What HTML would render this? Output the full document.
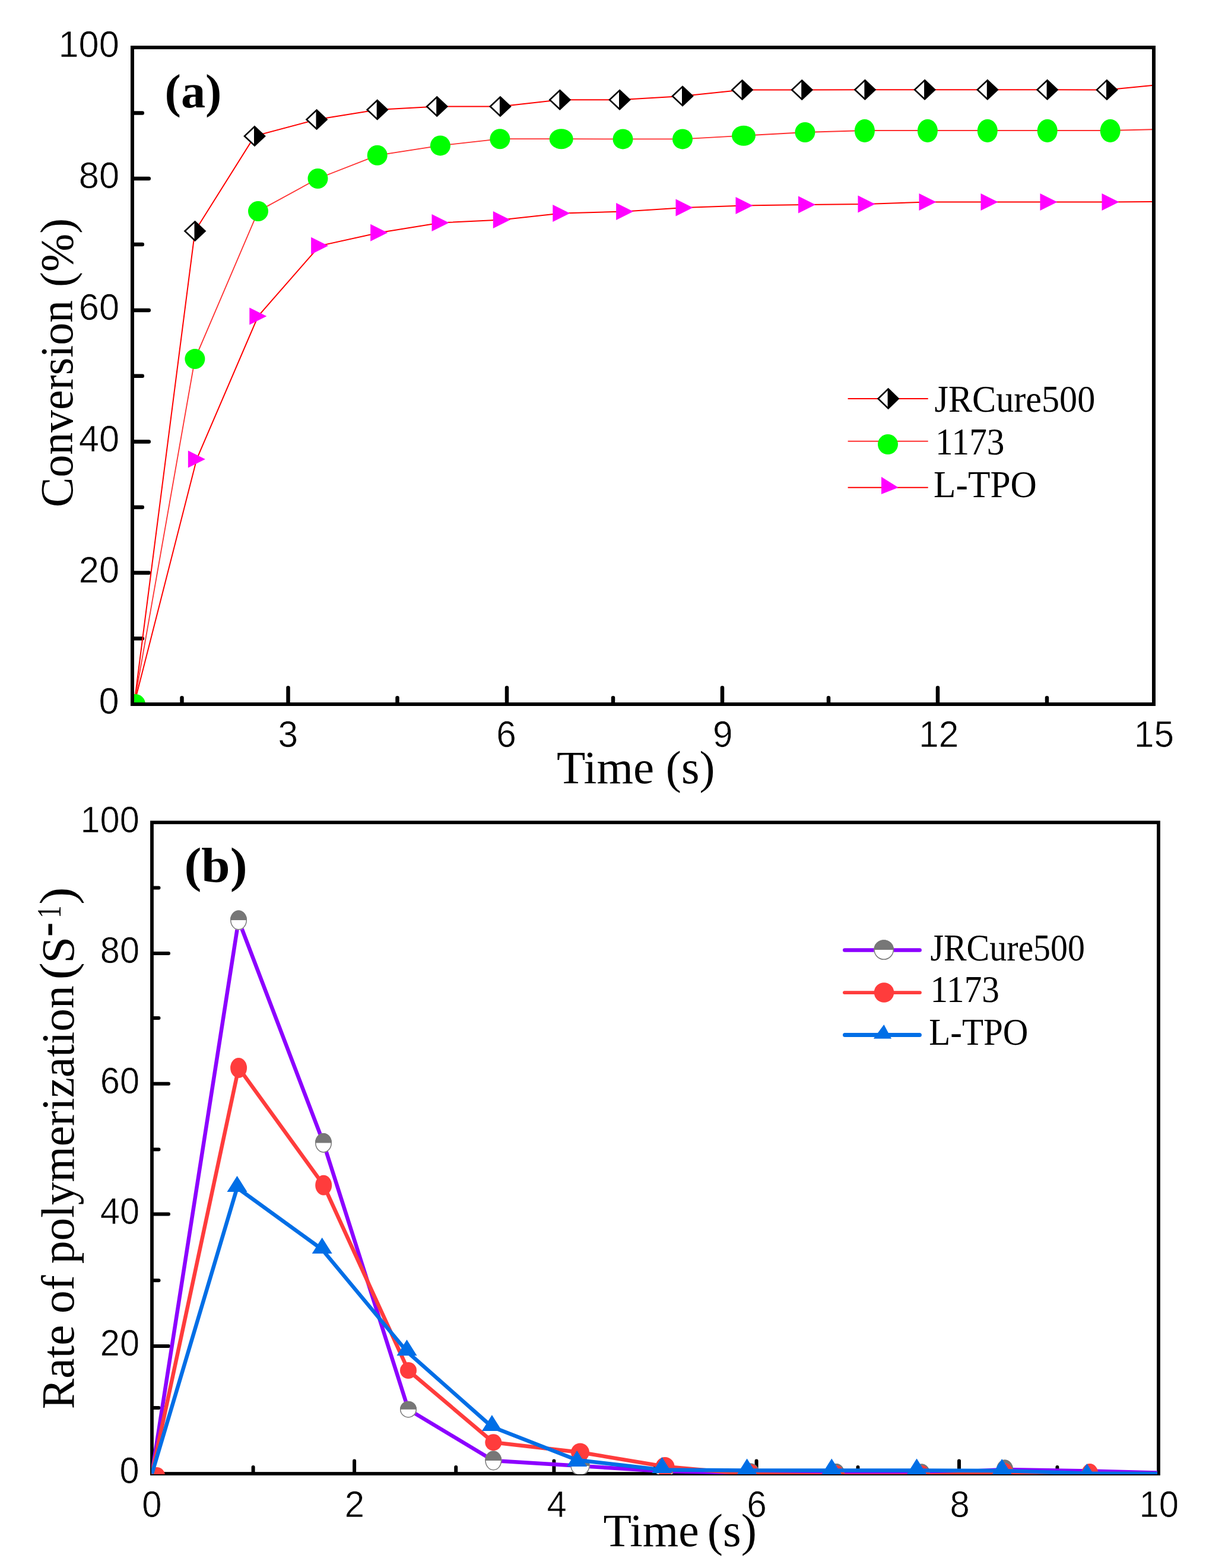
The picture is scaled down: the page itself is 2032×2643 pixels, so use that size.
<!DOCTYPE html>
<html><head><meta charset="utf-8"><title>Conversion and rate of polymerization</title><style>html,body{margin:0;padding:0;background:#fff;overflow:hidden;}svg{display:block;}</style></head>
<body>
<svg width="2032" height="2643" viewBox="0 0 2032 2643">
<rect width="100%" height="100%" fill="#fff"/>
<defs><clipPath id="ca"><rect x="226" y="83" width="1715" height="1101"/></clipPath><clipPath id="cb"><rect x="255" y="1389" width="1695" height="1096"/></clipPath></defs>
<path d="M226,965.6H250.8M226,744.5H250.8M226,522.9H250.8M226,301H250.8M226,1076.3H239.8M226,854.9H239.8M226,633.7H239.8M226,412H239.8M226,190.5H239.8M485.5,1184V1159.2M854,1184V1159.2M1217,1184V1159.2M1580,1184V1159.2M306.5,1184V1176.2M669.5,1184V1176.2M1033,1184V1176.2M1396,1184V1176.2M1764,1184V1176.2" stroke="#000" stroke-width="6.5" fill="none" stroke-linecap="round"/>
<rect x="223" y="80" width="1721" height="1107" fill="none" stroke="#000" stroke-width="6"/>
<text transform="translate(166.56,1203.37) scale(0.9750,1)" font-family="'Liberation Sans', sans-serif" font-size="63.0" font-weight="normal" fill="#000" stroke="#fff" stroke-width="0.7">0</text>
<text transform="translate(132.78,981.97) scale(0.9750,1)" font-family="'Liberation Sans', sans-serif" font-size="63.0" font-weight="normal" fill="#000" stroke="#fff" stroke-width="0.7">20</text>
<text transform="translate(132.78,760.87) scale(0.9750,1)" font-family="'Liberation Sans', sans-serif" font-size="63.0" font-weight="normal" fill="#000" stroke="#fff" stroke-width="0.7">40</text>
<text transform="translate(132.78,539.26) scale(0.9750,1)" font-family="'Liberation Sans', sans-serif" font-size="63.0" font-weight="normal" fill="#000" stroke="#fff" stroke-width="0.7">60</text>
<text transform="translate(132.78,317.37) scale(0.9750,1)" font-family="'Liberation Sans', sans-serif" font-size="63.0" font-weight="normal" fill="#000" stroke="#fff" stroke-width="0.7">80</text>
<text transform="translate(98.38,96.36) scale(0.9750,1)" font-family="'Liberation Sans', sans-serif" font-size="63.0" font-weight="normal" fill="#000" stroke="#fff" stroke-width="0.7">100</text>
<text transform="translate(468.41,1259.20) scale(0.9500,1)" font-family="'Liberation Sans', sans-serif" font-size="63.5" font-weight="normal" fill="#000" stroke="#fff" stroke-width="0.7">3</text>
<text transform="translate(836.31,1259.20) scale(0.9500,1)" font-family="'Liberation Sans', sans-serif" font-size="63.5" font-weight="normal" fill="#000" stroke="#fff" stroke-width="0.7">6</text>
<text transform="translate(1201.11,1259.20) scale(0.9500,1)" font-family="'Liberation Sans', sans-serif" font-size="63.5" font-weight="normal" fill="#000" stroke="#fff" stroke-width="0.7">9</text>
<text transform="translate(1548.21,1259.20) scale(0.9500,1)" font-family="'Liberation Sans', sans-serif" font-size="63.5" font-weight="normal" fill="#000" stroke="#fff" stroke-width="0.7">12</text>
<text transform="translate(1911.01,1259.20) scale(0.9500,1)" font-family="'Liberation Sans', sans-serif" font-size="63.5" font-weight="normal" fill="#000" stroke="#fff" stroke-width="0.7">15</text>
<text transform="translate(938.02,1320.00) scale(1.0071,1)" font-family="'Liberation Serif', serif" font-size="78.5" font-weight="normal" fill="#000">Time</text>
<text transform="translate(1121.87,1320.00) scale(0.9981,1)" font-family="'Liberation Serif', serif" font-size="78.5" font-weight="normal" fill="#000">(s)</text>
<text transform="translate(122.00,855.03) rotate(-90) scale(0.9641,1)" font-family="'Liberation Serif', serif" font-size="78.5" font-weight="normal">Conversion</text>
<text transform="translate(122.00,484.00) rotate(-90) scale(0.9857,1)" font-family="'Liberation Serif', serif" font-size="78.5" font-weight="normal">(%)</text>
<text transform="translate(277.51,180.80) scale(1.0151,1)" font-family="'Liberation Serif', serif" font-size="81" font-weight="bold" fill="#000">(a)</text>
<g clip-path="url(#ca)">
<polyline points="226,1187 328.5,389.5 429,229.4 533.5,201.5 635.7,185 736.2,179.5 842.9,179.5 943.3,168.3 1044,168.2 1150,162 1250.5,151.5 1351.2,151.5 1457.4,151.2 1558.1,151.2 1663.8,151.2 1764.6,151.3 1865,151.4 1950,143.2" fill="none" stroke="#ff0000" stroke-width="2"/>
<polyline points="226,1187 328.4,605.1 435,356 535.5,301 635.7,261.8 741.9,245.4 842.4,234.2 945.7,234.2 1049.5,234.4 1150,234.4 1253,228.7 1356.4,223 1456.9,220 1562.9,220 1663.8,220 1764.7,220 1870.7,220 1950,218" fill="none" stroke="#ff3030" stroke-width="1.8"/>
<polyline points="226,1187 331.4,774 434.8,533 538.6,414.3 638.7,392.3 742,375.5 845.3,370.5 945.8,359.4 1052.6,356.5 1153,350 1254,346.5 1359.5,345 1460,344 1563,340.5 1667,340.5 1767,340.5 1871,340.5 1950,340" fill="none" stroke="#ff0000" stroke-width="2"/>
<circle cx="228" cy="1187" r="17" fill="#00ff00"/>
<ellipse cx="328.4" cy="605.1" rx="17" ry="17" fill="#00ff00"/>
<ellipse cx="435" cy="356" rx="17" ry="17" fill="#00ff00"/>
<ellipse cx="535.5" cy="301" rx="17" ry="17" fill="#00ff00"/>
<ellipse cx="635.7" cy="261.8" rx="17" ry="17" fill="#00ff00"/>
<ellipse cx="741.9" cy="245.4" rx="17" ry="17" fill="#00ff00"/>
<ellipse cx="842.4" cy="234.2" rx="17" ry="17" fill="#00ff00"/>
<ellipse cx="945.7" cy="234.2" rx="20" ry="17" fill="#00ff00"/>
<ellipse cx="1049.5" cy="234.4" rx="17" ry="17" fill="#00ff00"/>
<ellipse cx="1150" cy="234.4" rx="17" ry="17" fill="#00ff00"/>
<ellipse cx="1253" cy="228.7" rx="20" ry="17" fill="#00ff00"/>
<ellipse cx="1356.4" cy="223" rx="17" ry="17" fill="#00ff00"/>
<ellipse cx="1456.9" cy="220.5" rx="17" ry="19.5" fill="#00ff00"/>
<ellipse cx="1562.9" cy="220.5" rx="17" ry="19.5" fill="#00ff00"/>
<ellipse cx="1663.8" cy="220.5" rx="17" ry="19.5" fill="#00ff00"/>
<ellipse cx="1764.7" cy="220.5" rx="17" ry="19.5" fill="#00ff00"/>
<ellipse cx="1870.7" cy="220.5" rx="17" ry="19.5" fill="#00ff00"/>
<path d="M328.5,373.5L345.5,389.5L328.5,405.5Z" fill="#000"/><path d="M328.5,373.5L311.5,389.5L328.5,405.5Z" fill="#fff"/><path d="M328.5,373.5L345.5,389.5L328.5,405.5L311.5,389.5Z" fill="none" stroke="#000" stroke-width="2.6" stroke-linejoin="miter"/><path d="M328.5,373.5V405.5" stroke="#000" stroke-width="2"/>
<path d="M429,213.4L446,229.4L429,245.4Z" fill="#000"/><path d="M429,213.4L412,229.4L429,245.4Z" fill="#fff"/><path d="M429,213.4L446,229.4L429,245.4L412,229.4Z" fill="none" stroke="#000" stroke-width="2.6" stroke-linejoin="miter"/><path d="M429,213.4V245.4" stroke="#000" stroke-width="2"/>
<path d="M533.5,185.5L550.5,201.5L533.5,217.5Z" fill="#000"/><path d="M533.5,185.5L516.5,201.5L533.5,217.5Z" fill="#fff"/><path d="M533.5,185.5L550.5,201.5L533.5,217.5L516.5,201.5Z" fill="none" stroke="#000" stroke-width="2.6" stroke-linejoin="miter"/><path d="M533.5,185.5V217.5" stroke="#000" stroke-width="2"/>
<path d="M635.7,169L652.7,185L635.7,201Z" fill="#000"/><path d="M635.7,169L618.7,185L635.7,201Z" fill="#fff"/><path d="M635.7,169L652.7,185L635.7,201L618.7,185Z" fill="none" stroke="#000" stroke-width="2.6" stroke-linejoin="miter"/><path d="M635.7,169V201" stroke="#000" stroke-width="2"/>
<path d="M736.2,163.5L753.2,179.5L736.2,195.5Z" fill="#000"/><path d="M736.2,163.5L719.2,179.5L736.2,195.5Z" fill="#fff"/><path d="M736.2,163.5L753.2,179.5L736.2,195.5L719.2,179.5Z" fill="none" stroke="#000" stroke-width="2.6" stroke-linejoin="miter"/><path d="M736.2,163.5V195.5" stroke="#000" stroke-width="2"/>
<path d="M842.9,163.5L859.9,179.5L842.9,195.5Z" fill="#000"/><path d="M842.9,163.5L825.9,179.5L842.9,195.5Z" fill="#fff"/><path d="M842.9,163.5L859.9,179.5L842.9,195.5L825.9,179.5Z" fill="none" stroke="#000" stroke-width="2.6" stroke-linejoin="miter"/><path d="M842.9,163.5V195.5" stroke="#000" stroke-width="2"/>
<path d="M943.3,152.3L960.3,168.3L943.3,184.3Z" fill="#000"/><path d="M943.3,152.3L926.3,168.3L943.3,184.3Z" fill="#fff"/><path d="M943.3,152.3L960.3,168.3L943.3,184.3L926.3,168.3Z" fill="none" stroke="#000" stroke-width="2.6" stroke-linejoin="miter"/><path d="M943.3,152.3V184.3" stroke="#000" stroke-width="2"/>
<path d="M1044,152.2L1061,168.2L1044,184.2Z" fill="#000"/><path d="M1044,152.2L1027,168.2L1044,184.2Z" fill="#fff"/><path d="M1044,152.2L1061,168.2L1044,184.2L1027,168.2Z" fill="none" stroke="#000" stroke-width="2.6" stroke-linejoin="miter"/><path d="M1044,152.2V184.2" stroke="#000" stroke-width="2"/>
<path d="M1150,146L1167,162L1150,178Z" fill="#000"/><path d="M1150,146L1133,162L1150,178Z" fill="#fff"/><path d="M1150,146L1167,162L1150,178L1133,162Z" fill="none" stroke="#000" stroke-width="2.6" stroke-linejoin="miter"/><path d="M1150,146V178" stroke="#000" stroke-width="2"/>
<path d="M1250.5,135.5L1267.5,151.5L1250.5,167.5Z" fill="#000"/><path d="M1250.5,135.5L1233.5,151.5L1250.5,167.5Z" fill="#fff"/><path d="M1250.5,135.5L1267.5,151.5L1250.5,167.5L1233.5,151.5Z" fill="none" stroke="#000" stroke-width="2.6" stroke-linejoin="miter"/><path d="M1250.5,135.5V167.5" stroke="#000" stroke-width="2"/>
<path d="M1351.2,135.5L1368.2,151.5L1351.2,167.5Z" fill="#000"/><path d="M1351.2,135.5L1334.2,151.5L1351.2,167.5Z" fill="#fff"/><path d="M1351.2,135.5L1368.2,151.5L1351.2,167.5L1334.2,151.5Z" fill="none" stroke="#000" stroke-width="2.6" stroke-linejoin="miter"/><path d="M1351.2,135.5V167.5" stroke="#000" stroke-width="2"/>
<path d="M1457.4,135.2L1474.4,151.2L1457.4,167.2Z" fill="#000"/><path d="M1457.4,135.2L1440.4,151.2L1457.4,167.2Z" fill="#fff"/><path d="M1457.4,135.2L1474.4,151.2L1457.4,167.2L1440.4,151.2Z" fill="none" stroke="#000" stroke-width="2.6" stroke-linejoin="miter"/><path d="M1457.4,135.2V167.2" stroke="#000" stroke-width="2"/>
<path d="M1558.1,135.2L1575.1,151.2L1558.1,167.2Z" fill="#000"/><path d="M1558.1,135.2L1541.1,151.2L1558.1,167.2Z" fill="#fff"/><path d="M1558.1,135.2L1575.1,151.2L1558.1,167.2L1541.1,151.2Z" fill="none" stroke="#000" stroke-width="2.6" stroke-linejoin="miter"/><path d="M1558.1,135.2V167.2" stroke="#000" stroke-width="2"/>
<path d="M1663.8,135.2L1680.8,151.2L1663.8,167.2Z" fill="#000"/><path d="M1663.8,135.2L1646.8,151.2L1663.8,167.2Z" fill="#fff"/><path d="M1663.8,135.2L1680.8,151.2L1663.8,167.2L1646.8,151.2Z" fill="none" stroke="#000" stroke-width="2.6" stroke-linejoin="miter"/><path d="M1663.8,135.2V167.2" stroke="#000" stroke-width="2"/>
<path d="M1764.6,135.3L1781.6,151.3L1764.6,167.3Z" fill="#000"/><path d="M1764.6,135.3L1747.6,151.3L1764.6,167.3Z" fill="#fff"/><path d="M1764.6,135.3L1781.6,151.3L1764.6,167.3L1747.6,151.3Z" fill="none" stroke="#000" stroke-width="2.6" stroke-linejoin="miter"/><path d="M1764.6,135.3V167.3" stroke="#000" stroke-width="2"/>
<path d="M1865,135.4L1882,151.4L1865,167.4Z" fill="#000"/><path d="M1865,135.4L1848,151.4L1865,167.4Z" fill="#fff"/><path d="M1865,135.4L1882,151.4L1865,167.4L1848,151.4Z" fill="none" stroke="#000" stroke-width="2.6" stroke-linejoin="miter"/><path d="M1865,135.4V167.4" stroke="#000" stroke-width="2"/>
<path d="M316.9,759.5L345.9,774L316.9,788.5Z" fill="#ff00ff"/>
<path d="M420.3,518.5L449.3,533L420.3,547.5Z" fill="#ff00ff"/>
<path d="M524.1,399.8L553.1,414.3L524.1,428.8Z" fill="#ff00ff"/>
<path d="M624.2,377.8L653.2,392.3L624.2,406.8Z" fill="#ff00ff"/>
<path d="M727.5,361.0L756.5,375.5L727.5,390.0Z" fill="#ff00ff"/>
<path d="M830.8,356.0L859.8,370.5L830.8,385.0Z" fill="#ff00ff"/>
<path d="M931.3,344.9L960.3,359.4L931.3,373.9Z" fill="#ff00ff"/>
<path d="M1038.1,342.0L1067.1,356.5L1038.1,371.0Z" fill="#ff00ff"/>
<path d="M1138.5,335.5L1167.5,350L1138.5,364.5Z" fill="#ff00ff"/>
<path d="M1239.5,332.0L1268.5,346.5L1239.5,361.0Z" fill="#ff00ff"/>
<path d="M1345.0,330.5L1374.0,345L1345.0,359.5Z" fill="#ff00ff"/>
<path d="M1445.5,329.5L1474.5,344L1445.5,358.5Z" fill="#ff00ff"/>
<path d="M1548.5,326.0L1577.5,340.5L1548.5,355.0Z" fill="#ff00ff"/>
<path d="M1652.5,326.0L1681.5,340.5L1652.5,355.0Z" fill="#ff00ff"/>
<path d="M1752.5,326.0L1781.5,340.5L1752.5,355.0Z" fill="#ff00ff"/>
<path d="M1856.5,326.0L1885.5,340.5L1856.5,355.0Z" fill="#ff00ff"/>
</g>
<path d="M1428.6,672H1563.7M1428.6,821.7H1563.7" stroke="#ff0000" stroke-width="2"/><path d="M1428.6,743.7H1563.7" stroke="#ff3030" stroke-width="2"/>
<path d="M1496.6,655.5L1513.6,672L1496.6,688.5Z" fill="#000"/><path d="M1496.6,655.5L1479.6,672L1496.6,688.5Z" fill="#fff"/><path d="M1496.6,655.5L1513.6,672L1496.6,688.5L1479.6,672Z" fill="none" stroke="#000" stroke-width="2.6" stroke-linejoin="miter"/><path d="M1496.6,655.5V688.5" stroke="#000" stroke-width="2"/>
<circle cx="1496" cy="749" r="17" fill="#00ff00"/>
<path d="M1485,803.7L1513.7,821.7L1485,832.9Z" fill="#ff00ff"/>
<text transform="translate(1574.50,694.30) scale(0.9477,1)" font-family="'Liberation Serif', serif" font-size="63.5" font-weight="normal" fill="#000">JRCure500</text>
<text transform="translate(1576.06,765.70) scale(0.9346,1)" font-family="'Liberation Serif', serif" font-size="63.5" font-weight="normal" fill="#000">1173</text>
<text transform="translate(1573.06,838.00) scale(0.9666,1)" font-family="'Liberation Serif', serif" font-size="63.5" font-weight="normal" fill="#000">L-TPO</text>
<path d="M259,2269H284M259,2046.4H284M259,1826.8H284M259,1606.9H284M259,2373H267.5M259,2158.2H267.5M259,1937.5H267.5M259,1716H267.5M259,1496.6H267.5M597.1,2481V2462.5M933.4,2481V2462.5M1274.6,2481V2462.5M1616,2481V2462.5M426.6,2481V2473M768.2,2481V2473M1104,2481V2473M1445.5,2481V2473M1781.4,2481V2473" stroke="#000" stroke-width="6" fill="none" stroke-linecap="round"/>
<rect x="256" y="1386.3" width="1696" height="1097.7" fill="none" stroke="#000" stroke-width="5.8"/>
<text transform="translate(201.54,2500.36) scale(0.9450,1)" font-family="'Liberation Sans', sans-serif" font-size="63.0" font-weight="normal" fill="#000" stroke="#fff" stroke-width="0.7">0</text>
<text transform="translate(168.80,2285.36) scale(0.9450,1)" font-family="'Liberation Sans', sans-serif" font-size="63.0" font-weight="normal" fill="#000" stroke="#fff" stroke-width="0.7">20</text>
<text transform="translate(168.80,2062.76) scale(0.9450,1)" font-family="'Liberation Sans', sans-serif" font-size="63.0" font-weight="normal" fill="#000" stroke="#fff" stroke-width="0.7">40</text>
<text transform="translate(168.80,1843.16) scale(0.9450,1)" font-family="'Liberation Sans', sans-serif" font-size="63.0" font-weight="normal" fill="#000" stroke="#fff" stroke-width="0.7">60</text>
<text transform="translate(168.80,1623.27) scale(0.9450,1)" font-family="'Liberation Sans', sans-serif" font-size="63.0" font-weight="normal" fill="#000" stroke="#fff" stroke-width="0.7">80</text>
<text transform="translate(135.46,1402.66) scale(0.9450,1)" font-family="'Liberation Sans', sans-serif" font-size="63.0" font-weight="normal" fill="#000" stroke="#fff" stroke-width="0.7">100</text>
<text transform="translate(239.24,2556.50) scale(0.9500,1)" font-family="'Liberation Sans', sans-serif" font-size="63.0" font-weight="normal" fill="#000" stroke="#fff" stroke-width="0.7">0</text>
<text transform="translate(580.64,2556.50) scale(0.9500,1)" font-family="'Liberation Sans', sans-serif" font-size="63.0" font-weight="normal" fill="#000" stroke="#fff" stroke-width="0.7">2</text>
<text transform="translate(921.54,2556.50) scale(0.9500,1)" font-family="'Liberation Sans', sans-serif" font-size="63.0" font-weight="normal" fill="#000" stroke="#fff" stroke-width="0.7">4</text>
<text transform="translate(1258.44,2556.50) scale(0.9500,1)" font-family="'Liberation Sans', sans-serif" font-size="63.0" font-weight="normal" fill="#000" stroke="#fff" stroke-width="0.7">6</text>
<text transform="translate(1600.54,2556.50) scale(0.9500,1)" font-family="'Liberation Sans', sans-serif" font-size="63.0" font-weight="normal" fill="#000" stroke="#fff" stroke-width="0.7">8</text>
<text transform="translate(1919.59,2556.50) scale(0.9500,1)" font-family="'Liberation Sans', sans-serif" font-size="63.0" font-weight="normal" fill="#000" stroke="#fff" stroke-width="0.7">10</text>
<text transform="translate(1016.55,2606.00) scale(0.9895,1)" font-family="'Liberation Serif', serif" font-size="78.5" font-weight="normal" fill="#000">Time</text>
<text transform="translate(1191.85,2606.00) scale(1.0033,1)" font-family="'Liberation Serif', serif" font-size="78.5" font-weight="normal" fill="#000">(s)</text>
<text transform="translate(124.00,2375.32) rotate(-90) scale(0.9866,1)" font-family="'Liberation Serif', serif" font-size="78.5" font-weight="normal">Rate of polymerization</text>
<text transform="translate(123.50,1651.54) rotate(-90) scale(1.0788,1)" font-family="'Liberation Serif', serif" font-size="82" font-weight="normal">(</text>
<text transform="translate(124.00,1623.67) rotate(-90) scale(1.0312,1)" font-family="'Liberation Serif', serif" font-size="78.5" font-weight="normal">S</text>
<text transform="translate(105.20,1578.92) rotate(-90) scale(0.8497,1)" font-family="'Liberation Serif', serif" font-size="86" font-weight="normal">-</text>
<text transform="translate(102.00,1547.86) rotate(-90) scale(0.7653,1)" font-family="'Liberation Serif', serif" font-size="56" font-weight="normal">1</text>
<text transform="translate(123.50,1524.65) rotate(-90) scale(1.0788,1)" font-family="'Liberation Serif', serif" font-size="82" font-weight="normal">)</text>
<text transform="translate(310.42,1485.70) scale(1.0666,1)" font-family="'Liberation Serif', serif" font-size="81.5" font-weight="bold" fill="#000">(b)</text>
<g clip-path="url(#cb)">
<polyline points="256,2484 402,1551 545,1926.4 688,2375.7 831.3,2462 977.5,2471 1120,2480 1265,2483 1409,2483.5 1553,2484 1693,2477 1836,2479.5 1952,2482.5" fill="none" stroke="#8c00ff" stroke-width="6.5" stroke-linejoin="round"/>
<ellipse cx="402" cy="1551" rx="14" ry="16.5" fill="#fff"/><path d="M388,1551A14,16.5 0 0 1 416,1551Z" fill="#777777"/><ellipse cx="402" cy="1551" rx="13.25" ry="15.75" fill="none" stroke="#777777" stroke-width="1.5"/>
<ellipse cx="545" cy="1926.4" rx="14" ry="16.5" fill="#fff"/><path d="M531,1926.4A14,16.5 0 0 1 559,1926.4Z" fill="#777777"/><ellipse cx="545" cy="1926.4" rx="13.25" ry="15.75" fill="none" stroke="#777777" stroke-width="1.5"/>
<ellipse cx="688" cy="2375.7" rx="14" ry="14" fill="#fff"/><path d="M674,2375.7A14,14 0 0 1 702,2375.7Z" fill="#777777"/><ellipse cx="688" cy="2375.7" rx="13.25" ry="13.25" fill="none" stroke="#777777" stroke-width="1.5"/>
<ellipse cx="831.3" cy="2462" rx="14" ry="16.5" fill="#fff"/><path d="M817.3,2462A14,16.5 0 0 1 845.3,2462Z" fill="#777777"/><ellipse cx="831.3" cy="2462" rx="13.25" ry="15.75" fill="none" stroke="#777777" stroke-width="1.5"/>
<ellipse cx="977.5" cy="2471" rx="16.2" ry="16" fill="#fff"/><path d="M961.3,2471A16.2,16 0 0 1 993.7,2471Z" fill="#777777"/><ellipse cx="977.5" cy="2471" rx="15.45" ry="15.25" fill="none" stroke="#777777" stroke-width="1.5"/>
<ellipse cx="1120" cy="2480" rx="14" ry="16.5" fill="#fff"/><path d="M1106,2480A14,16.5 0 0 1 1134,2480Z" fill="#777777"/><ellipse cx="1120" cy="2480" rx="13.25" ry="15.75" fill="none" stroke="#777777" stroke-width="1.5"/>
<ellipse cx="1265" cy="2483" rx="14" ry="16.5" fill="#fff"/><path d="M1251,2483A14,16.5 0 0 1 1279,2483Z" fill="#777777"/><ellipse cx="1265" cy="2483" rx="13.25" ry="15.75" fill="none" stroke="#777777" stroke-width="1.5"/>
<ellipse cx="1409" cy="2483.5" rx="14" ry="16.5" fill="#fff"/><path d="M1395,2483.5A14,16.5 0 0 1 1423,2483.5Z" fill="#777777"/><ellipse cx="1409" cy="2483.5" rx="13.25" ry="15.75" fill="none" stroke="#777777" stroke-width="1.5"/>
<ellipse cx="1553" cy="2484" rx="14" ry="16.5" fill="#fff"/><path d="M1539,2484A14,16.5 0 0 1 1567,2484Z" fill="#777777"/><ellipse cx="1553" cy="2484" rx="13.25" ry="15.75" fill="none" stroke="#777777" stroke-width="1.5"/>
<ellipse cx="1693" cy="2477" rx="14" ry="16.5" fill="#fff"/><path d="M1679,2477A14,16.5 0 0 1 1707,2477Z" fill="#777777"/><ellipse cx="1693" cy="2477" rx="13.25" ry="15.75" fill="none" stroke="#777777" stroke-width="1.5"/>
<polyline points="256,2484 402.1,1799.9 545.2,1997.7 688,2310 831.3,2431.3 977.5,2448 1120.5,2472 1265,2485 1409,2487 1553,2487 1693,2483 1836.3,2484 1952,2484" fill="none" stroke="#ff3c3c" stroke-width="6.5" stroke-linejoin="round"/>
<circle cx="264" cy="2487" r="14" fill="#ff3c3c"/>
<ellipse cx="402.1" cy="1799.9" rx="14" ry="17" fill="#ff3c3c"/>
<ellipse cx="545.2" cy="1997.7" rx="14" ry="17" fill="#ff3c3c"/>
<ellipse cx="688" cy="2310" rx="14" ry="14" fill="#ff3c3c"/>
<ellipse cx="831.3" cy="2431.3" rx="14" ry="14" fill="#ff3c3c"/>
<ellipse cx="977.5" cy="2448" rx="15.5" ry="15.5" fill="#ff3c3c"/>
<ellipse cx="1120.5" cy="2472" rx="16" ry="16" fill="#ff3c3c"/>
<ellipse cx="1265" cy="2485" rx="14" ry="17" fill="#ff3c3c"/>
<ellipse cx="1409" cy="2487" rx="14" ry="17" fill="#ff3c3c"/>
<ellipse cx="1553" cy="2487" rx="14" ry="17" fill="#ff3c3c"/>
<ellipse cx="1693" cy="2483" rx="14" ry="17" fill="#ff3c3c"/>
<ellipse cx="1836.3" cy="2484" rx="14" ry="17" fill="#ff3c3c"/>
<polyline points="256,2484 399.5,2002 542.7,2106 685.5,2278 828.9,2405 972.1,2461 1115.4,2477.5 1258.6,2478.5 1401.25,2478.5 1544.6,2478.5 1688.2,2479 1831.4,2483.5 1952,2484" fill="none" stroke="#006ee6" stroke-width="6.5" stroke-linejoin="round"/>
<path d="M399.5,1982L416.5,2009L382.5,2009Z" fill="#006ee6"/>
<path d="M542.7,2086L559.7,2113L525.7,2113Z" fill="#006ee6"/>
<path d="M685.5,2258L702.5,2285L668.5,2285Z" fill="#006ee6"/>
<path d="M828.9,2385L845.9,2412L811.9,2412Z" fill="#006ee6"/>
<path d="M972.1,2445L989.1,2472L955.1,2472Z" fill="#006ee6"/>
<path d="M1115.4,2456.0L1132.4,2483.0L1098.4,2483.0Z" fill="#006ee6"/>
<path d="M1258.6,2458.5L1275.6,2485.5L1241.6,2485.5Z" fill="#006ee6"/>
<path d="M1401.25,2458.5L1418.25,2485.5L1384.25,2485.5Z" fill="#006ee6"/>
<path d="M1544.6,2458.5L1561.6,2485.5L1527.6,2485.5Z" fill="#006ee6"/>
<path d="M1688.2,2459L1705.2,2486L1671.2,2486Z" fill="#006ee6"/>
<path d="M1831.4,2467.0L1848.4,2494.0L1814.4,2494.0Z" fill="#006ee6"/>
</g>
<path d="M1423.3,1601.5H1549.6" stroke="#8c00ff" stroke-width="6.6" stroke-linecap="round"/>
<path d="M1422.9,1673.1H1550" stroke="#ff3c3c" stroke-width="5.8" stroke-linecap="round"/>
<path d="M1423.5,1744.5H1549.4" stroke="#006ee6" stroke-width="7" stroke-linecap="round"/>
<ellipse cx="1489.2" cy="1601" rx="16.85" ry="16.85" fill="#fff"/><path d="M1472.3500000000001,1601A16.85,16.85 0 0 1 1506.05,1601Z" fill="#777777"/><ellipse cx="1489.2" cy="1601" rx="16.1" ry="16.1" fill="none" stroke="#777777" stroke-width="1.5"/>
<circle cx="1489.5" cy="1673" r="16.8" fill="#ff3c3c"/>
<path d="M1489.4,1727L1502,1750.7L1471.8,1750.7Z" fill="#006ee6"/>
<text transform="translate(1567.44,1618.60) scale(0.9048,1)" font-family="'Liberation Serif', serif" font-size="64" font-weight="normal" fill="#000">JRCure500</text>
<text transform="translate(1567.56,1689.10) scale(0.9411,1)" font-family="'Liberation Serif', serif" font-size="63" font-weight="normal" fill="#000">1173</text>
<text transform="translate(1565.23,1760.90) scale(0.9374,1)" font-family="'Liberation Serif', serif" font-size="63" font-weight="normal" fill="#000">L-TPO</text>
</svg>
</body></html>
